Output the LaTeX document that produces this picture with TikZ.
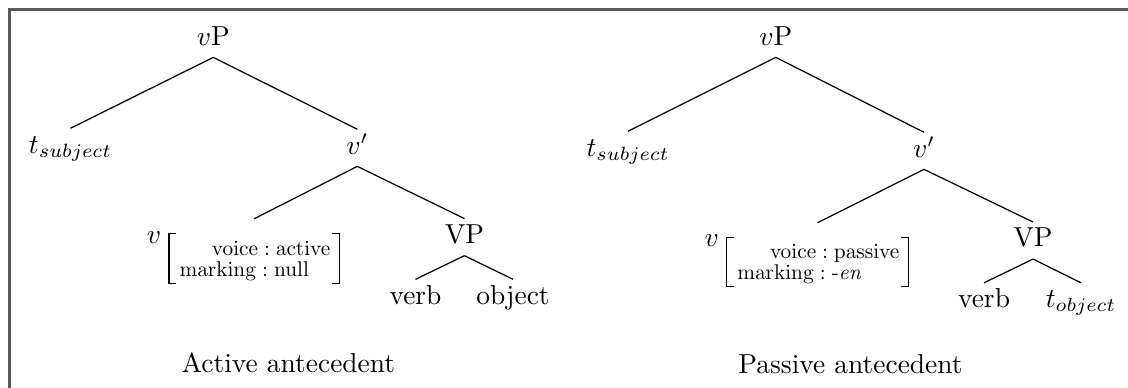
\documentclass[tikz,border=0pt]{standalone}
\usepackage{amsmath}
\usepackage{graphicx}
\newcommand{\avmrow}[1]{\scalebox{0.777}{#1}}
\begin{document}
\begin{tikzpicture}[x=0.36416pt,y=-0.36416pt,
  lbl/.style={anchor=base, inner sep=2.4pt, outer sep=0pt, text height=6.6pt, text depth=2.1pt},
  edge/.style={line width=0.45pt},
  brk/.style={line width=0.5pt},
  avmtxt/.style={inner sep=0pt},
  avmbox/.style={inner sep=0pt, outer sep=0pt, minimum height=18.2pt},
  frame/.style={line width=0.75pt, draw=black!65}]
\useasboundingbox (0,0) rectangle (1128,387);
\draw[frame] (1140,9.5) -- (9.5,9.5) -- (9.5,400);

% ---------- Active tree ----------
\node[lbl] (vpA) at (213.3,45) {$v$P};
\node[lbl] (tsA) at (70.5,153) {$t_{subject}$};
\node[lbl] (vbA) at (357.3,154) {$v'$};
\node[avmbox, minimum width=62pt] (avmA) at (254.15,258.3) {};
\node[anchor=base, inner sep=0pt] (vA) at (154,243) {$v$};
\node[avmtxt, anchor=base east] (r1A) at (331,255) {\avmrow{$\mathrm{voice}:\mathrm{active}$}};
\node[avmtxt, anchor=base west] (r2A) at (179,276.7) {\avmrow{$\mathrm{marking}:\mathrm{null}$}};
\node[lbl] (VPA) at (464.5,243.3) {VP};
\node[lbl] (verbA) at (415.5,304) {verb};
\node[lbl] (objA) at (513,304) {object};
\node[anchor=base, inner sep=0pt] (capA) at (288.3,372.7) {Active antecedent};

\draw[brk] ([xshift=2.5pt]avmA.north west) -- (avmA.north west) -- (avmA.south west) -- ([xshift=2.5pt]avmA.south west);
\draw[brk] ([xshift=-2.5pt]avmA.north east) -- (avmA.north east) -- (avmA.south east) -- ([xshift=-2.5pt]avmA.south east);

\draw[edge] (vpA.south) -- (tsA.north);
\draw[edge] (vpA.south) -- (vbA.north);
\draw[edge] (vbA.south) -- ([yshift=5.3pt]avmA.north);
\draw[edge] (vbA.south) -- (VPA.north);
\draw[edge] (VPA.south) -- (verbA.north);
\draw[edge] (VPA.south) -- (objA.north);

% ---------- Passive tree ----------
\node[lbl] (vpB) at (775.8,45) {$v$P};
\node[lbl] (tsB) at (628,156) {$t_{subject}$};
\node[lbl] (vbB) at (924,157) {$v'$};
\node[avmbox, minimum width=66.1pt, minimum height=18pt] (avmB) at (817.5,262) {};
\node[anchor=base, inner sep=0pt] (vB) at (711.7,246.7) {$v$};
\node[avmtxt, anchor=base east] (r1B) at (900,258.3) {\avmrow{$\mathrm{voice}:\mathrm{passive}$}};
\node[avmtxt, anchor=base west] (r2B) at (736.7,279.3) {\avmrow{$\mathrm{marking}:\mbox{-\textit{en}}$}};
\node[lbl] (VPB) at (1033,246.7) {VP};
\node[lbl] (verbB) at (984,307.5) {verb};
\node[lbl] (tobB) at (1081,307.5) {$t_{object}$};
\node[anchor=base, inner sep=0pt] (capB) at (850.5,373.3) {Passive antecedent};

\draw[brk] ([xshift=2.5pt]avmB.north west) -- (avmB.north west) -- (avmB.south west) -- ([xshift=2.5pt]avmB.south west);
\draw[brk] ([xshift=-2.5pt]avmB.north east) -- (avmB.north east) -- (avmB.south east) -- ([xshift=-2.5pt]avmB.south east);

\draw[edge] (vpB.south) -- (tsB.north);
\draw[edge] (vpB.south) -- (vbB.north);
\draw[edge] (vbB.south) -- ([yshift=5.3pt]avmB.north);
\draw[edge] (vbB.south) -- (VPB.north);
\draw[edge] (VPB.south) -- (verbB.north);
\draw[edge] (VPB.south) -- (tobB.north);
\end{tikzpicture}
\end{document}
